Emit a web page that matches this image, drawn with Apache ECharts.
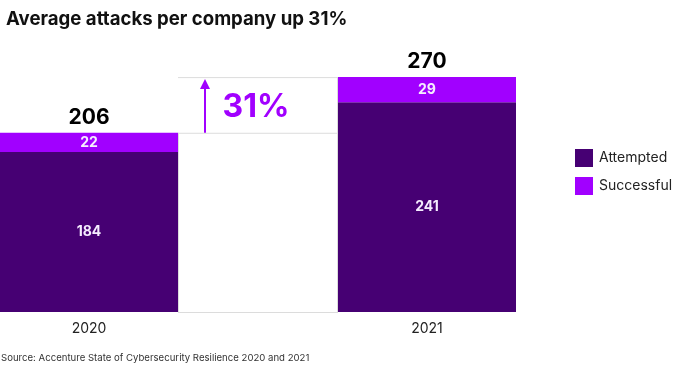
<!DOCTYPE html>
<html><head><meta charset="utf-8">
<script src="https://cdn.jsdelivr.net/npm/echarts@6/dist/echarts.min.js"></script>
<style>html,body{margin:0;padding:0;background:#fff}#c{width:678px;height:371px}</style>
</head><body><div id="c"></div>
<script>
const categories = ['2020', '2021'];
const attempted = [184, 241];
const successful = [22, 29];
const totals = [206, 270];
const titleText = 'Average attacks per company up 31%';
const sourceText = 'Source: Accenture State of Cybersecurity Resilience 2020 and 2021';

const BAR_W = 178;
const FONT = 'Inter, Roboto, "Noto Sans", sans-serif';
const chart = echarts.init(document.getElementById('c'));
chart.setOption({
  animation: false,
  title: {text: titleText, left: 1, top: 5,
    textStyle: {fontFamily: FONT, fontWeight: 700, fontSize: 18.6, color: '#111'}},
  legend: {orient: 'vertical', left: 570, top: 144, itemWidth: 18, itemHeight: 18, itemGap: 10,
    icon: 'rect', data: ['Attempted', 'Successful'],
    textStyle: {fontFamily: FONT, fontSize: 14, color: '#222', padding: [0, 0, 0, 1]}},
  grid: {left: -80, width: 676, top: 51, bottom: 59, containLabel: false, outerBoundsMode: 'none'},
  xAxis: {type: 'category', data: categories, axisLine: {show: false}, axisTick: {show: false},
    axisLabel: {fontFamily: FONT, fontSize: 14, color: '#222', margin: 10, interval: 0}},
  yAxis: {type: 'value', min: 0, max: 300, show: false, splitLine: {show: false}},
  series: [
    {name: 'Attempted', type: 'bar', stack: 's', data: attempted, barWidth: BAR_W,
      itemStyle: {color: '#460073'},
      label: {show: true, position: 'inside', color: '#f5ecff', fontFamily: FONT, fontWeight: 700, fontSize: 14}},
    {name: 'Successful', type: 'bar', stack: 's', data: successful, barWidth: BAR_W,
      itemStyle: {color: '#a100ff'},
      label: {show: true, position: 'inside', color: '#f5ecff', fontFamily: FONT, fontWeight: 700, fontSize: 14}},
    {name: 'Total', type: 'bar', stack: 's', data: totals.map(() => 0), barWidth: BAR_W,
      itemStyle: {color: 'transparent'}, silent: true,
      label: {show: true, position: 'top', distance: 5,
        formatter: p => totals[p.dataIndex],
        color: '#000', fontFamily: FONT, fontWeight: 700, fontSize: 21}}
  ]
});

// change box + arrow, positioned through the chart's own scales
const p0 = chart.convertToPixel({gridIndex: 0}, [0, 0]);
const pA = chart.convertToPixel({gridIndex: 0}, [0, totals[0]]);
const pB = chart.convertToPixel({gridIndex: 0}, [1, totals[1]]);
const pB0 = chart.convertToPixel({gridIndex: 0}, [1, 0]);
const xL = p0[0] + BAR_W / 2, xR = pB0[0] - BAR_W / 2;
const yBase = p0[1], yLow = pA[1], yHigh = pB[1];
const pct = Math.round((totals[1] - totals[0]) / totals[0] * 100) + '%';
const gray = '#dcdcdc';
const arrowX = xL + 27;
chart.setOption({
  graphic: [
    {type: 'text', left: 1, top: 353, style: {text: sourceText, fontFamily: FONT, fontSize: 9.6, fill: '#333'}},
    {type: 'line', shape: {x1: xL, y1: yHigh + 0.5, x2: xR, y2: yHigh + 0.5}, style: {stroke: gray, lineWidth: 1}},
    {type: 'line', shape: {x1: xL, y1: yLow + 0.5, x2: xR, y2: yLow + 0.5}, style: {stroke: gray, lineWidth: 1}},
    {type: 'line', shape: {x1: xL + 0.5, y1: yLow, x2: xL + 0.5, y2: yBase}, style: {stroke: gray, lineWidth: 1}},
    {type: 'line', shape: {x1: xR - 0.5, y1: yHigh, x2: xR - 0.5, y2: yBase}, style: {stroke: gray, lineWidth: 1}},
    {type: 'line', shape: {x1: xL, y1: yBase + 0.5, x2: xR, y2: yBase + 0.5}, style: {stroke: gray, lineWidth: 1}},
    {type: 'line', shape: {x1: arrowX, y1: yLow, x2: arrowX, y2: yHigh + 8}, style: {stroke: '#a100ff', lineWidth: 2}},
    {type: 'polygon', shape: {points: [[arrowX - 5, yHigh + 12], [arrowX + 5, yHigh + 12], [arrowX, yHigh + 2]]}, style: {fill: '#a100ff'}},
    {type: 'text', x: xL + 78, y: (yLow + yHigh) / 2 + 2,
      style: {text: pct, fontFamily: FONT, fontWeight: 700, fontSize: 32, fill: '#a100ff', align: 'center', verticalAlign: 'middle'}}
  ]
});
</script></body></html>
